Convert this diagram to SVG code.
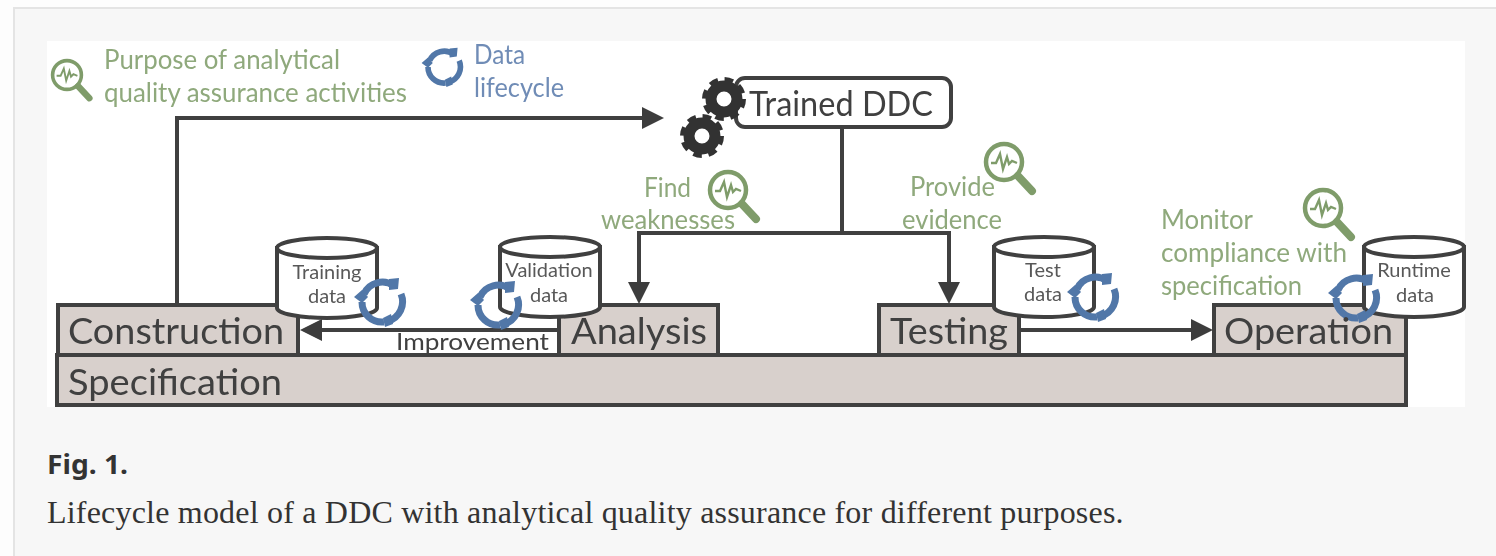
<svg xmlns="http://www.w3.org/2000/svg" xmlns:xlink="http://www.w3.org/1999/xlink" width="1496" height="556" viewBox="0 0 1496 556">
<style>
.t{font-family:Lato,"Open Sans",sans-serif}
.box{fill:#d8d0cc;stroke:#404040;stroke-width:4}
.lbl{font-size:37px;fill:#404040}
.grn{font-size:26px;fill:#8fa97c}
.blu{font-size:26px;fill:#6f8cb6}
.cyl{font-size:20px;fill:#595959;text-anchor:middle}
.cb{fill:#fff;stroke:#404040;stroke-width:4}
.ln{fill:none;stroke:#404040;stroke-width:4}
.soft{filter:url(#b)}
</style>
<defs>
<filter id="b" x="-2%" y="-2%" width="104%" height="104%"><feGaussianBlur stdDeviation="0.7"/></filter>
<marker id="ah" markerUnits="userSpaceOnUse" markerWidth="24" markerHeight="24" refX="10" refY="11" orient="auto"><path d="M0 0L22 11L0 22Z" fill="#3c3c3c"/></marker>
<g id="mag"><circle r="18" fill="none" stroke="#7f9c6b" stroke-width="4.5"/><path d="M14 14L28 29" stroke="#7f9c6b" stroke-width="8" stroke-linecap="round"/><path d="M-13 1H-8L-4 -8L-1 7L3 -5L5 2L8 -1L13 1" fill="none" stroke="#7f9c6b" stroke-width="2.4"/></g>
<g id="cyc" fill="none" stroke="#5177a8" stroke-width="7"><path d="M-18 -8A20 20 0 0 1 12 -16"/><path d="M19 -8A20 20 0 0 1 6 19"/><path d="M2 20A20 20 0 0 1 -20 0"/><path d="M7 -23L17 -24L16 -13L7 -12Z M1 16L9 12L11 22L3 25Z M-28 -5L-20 -12L-14 -5L-20 1Z" fill="#5177a8" stroke="none"/></g>
<g id="gear"><circle r="13" fill="none" stroke="#333" stroke-width="11"/><circle r="19" fill="none" stroke="#333" stroke-width="6" stroke-dasharray="8.400 6.520"/></g>
<g id="cy"><path class="cb" d="M0 0V60A50 10 0 0 0 100 60V0Z"/><ellipse class="cb" cx="50" cy="0" rx="50" ry="10"/></g>
</defs>
<rect width="1496" height="556" fill="#fdfdfd"/>
<rect x="14" y="8" width="1600" height="700" fill="#f7f7f7" stroke="#e4e4e4" stroke-width="2"/>
<rect x="47" y="41" width="1418" height="366" fill="#fff"/>
<g class="soft">
<g id="specification"><rect class="box" x="57" y="355" width="1349" height="50"/><text class="t lbl" x="68" y="395" textLength="214" lengthAdjust="spacingAndGlyphs">Specification</text></g>
<g id="construction"><rect class="box" x="58" y="305" width="240" height="50"/><text class="t lbl" x="68" y="344" textLength="216" lengthAdjust="spacingAndGlyphs">Construction</text></g>
<g id="analysis"><rect class="box" x="559" y="305" width="159" height="50"/><text class="t lbl" x="571" y="344" textLength="136" lengthAdjust="spacingAndGlyphs">Analysis</text></g>
<g id="testing"><rect class="box" x="879" y="305" width="140" height="50"/><text class="t lbl" x="890" y="344" textLength="118" lengthAdjust="spacingAndGlyphs">Testing</text></g>
<g id="operation"><rect class="box" x="1214" y="305" width="192" height="50"/></g>
<g id="connectors">
<path class="ln" d="M177 305V118H652" marker-end="url(#ah)"/>
<path class="ln" d="M842 127V233"/>
<path class="ln" d="M842 233H639V292" marker-end="url(#ah)"/>
<path class="ln" d="M842 233H949V292" marker-end="url(#ah)"/>
<path class="ln" d="M559 330H312" marker-end="url(#ah)"/>
<path class="ln" d="M1019 330H1201" marker-end="url(#ah)"/>
</g>
<g id="improvement"><text class="t" x="396" y="350" font-size="24" fill="#404040" textLength="153" lengthAdjust="spacingAndGlyphs">Improvement</text></g>
<g id="training-data"><use xlink:href="#cy" href="#cy" x="277" y="248"/><text class="t cyl" x="327" y="279">Training</text><text class="t cyl" x="327" y="303">data</text><use xlink:href="#cyc" href="#cyc" x="382" y="302"/></g>
<g id="validation-data"><use xlink:href="#cy" href="#cy" x="500" y="247"/><text class="t cyl" x="549" y="277">Validation</text><text class="t cyl" x="549" y="302">data</text><use xlink:href="#cyc" href="#cyc" x="498" y="305"/></g>
<g id="test-data"><use xlink:href="#cy" href="#cy" x="994" y="247"/><text class="t cyl" x="1043" y="277">Test</text><text class="t cyl" x="1043" y="301">data</text><use xlink:href="#cyc" href="#cyc" x="1095" y="297"/></g>
<g id="runtime-data"><use xlink:href="#cy" href="#cy" x="1364" y="247"/><text class="t cyl" x="1414" y="277">Runtime</text><text class="t cyl" x="1415" y="302">data</text><use xlink:href="#cyc" href="#cyc" x="1356" y="298"/></g>
<g id="operation-label"><text class="t lbl" x="1224" y="344" textLength="169" lengthAdjust="spacingAndGlyphs">Operation</text></g>
<g id="trained-ddc"><rect x="736" y="78" width="215" height="49" rx="9" fill="#fff" stroke="#404040" stroke-width="4"/><text class="t" x="749" y="116" font-size="35" fill="#404040" textLength="184" lengthAdjust="spacingAndGlyphs">Trained DDC</text><use xlink:href="#gear" href="#gear" x="724" y="99"/><use xlink:href="#gear" href="#gear" x="702" y="136"/></g>
<g id="legend-purpose"><use xlink:href="#mag" href="#mag" transform="translate(67 75) scale(.8)"/><text class="t grn" x="104" y="69" textLength="236" lengthAdjust="spacingAndGlyphs">Purpose of analytical</text><text class="t grn" x="104" y="102" textLength="303" lengthAdjust="spacingAndGlyphs">quality assurance activities</text></g>
<g id="legend-lifecycle"><use xlink:href="#cyc" href="#cyc" transform="translate(444 67) scale(.8)"/><text class="t blu" x="474" y="64" textLength="51" lengthAdjust="spacingAndGlyphs">Data</text><text class="t blu" x="474" y="97" textLength="90" lengthAdjust="spacingAndGlyphs">lifecycle</text></g>
<g id="find-weaknesses"><use xlink:href="#mag" href="#mag" x="728" y="190"/><text class="t grn" x="644" y="197" textLength="47" lengthAdjust="spacingAndGlyphs">Find</text><text class="t grn" x="601" y="229" textLength="134" lengthAdjust="spacingAndGlyphs">weaknesses</text></g>
<g id="provide-evidence"><use xlink:href="#mag" href="#mag" x="1004" y="162"/><text class="t grn" x="910" y="196" textLength="85" lengthAdjust="spacingAndGlyphs">Provide</text><text class="t grn" x="902" y="229" textLength="100" lengthAdjust="spacingAndGlyphs">evidence</text></g>
<g id="monitor-compliance"><use xlink:href="#mag" href="#mag" x="1323" y="208"/><text class="t grn" x="1161" y="229" textLength="92" lengthAdjust="spacingAndGlyphs">Monitor</text><text class="t grn" x="1161" y="262" textLength="186" lengthAdjust="spacingAndGlyphs">compliance with</text><text class="t grn" x="1161" y="295" textLength="141" lengthAdjust="spacingAndGlyphs">specification</text></g>
</g>
<text x="47" y="474" font-family="'Noto Sans',sans-serif" font-weight="700" font-size="26" fill="#333" textLength="81" lengthAdjust="spacingAndGlyphs">Fig. 1.</text>
<text x="47" y="523" font-family="'Liberation Serif',serif" font-size="32" letter-spacing=".2" fill="#333">Lifecycle model of a DDC with analytical quality assurance for different purposes.</text>
</svg>
